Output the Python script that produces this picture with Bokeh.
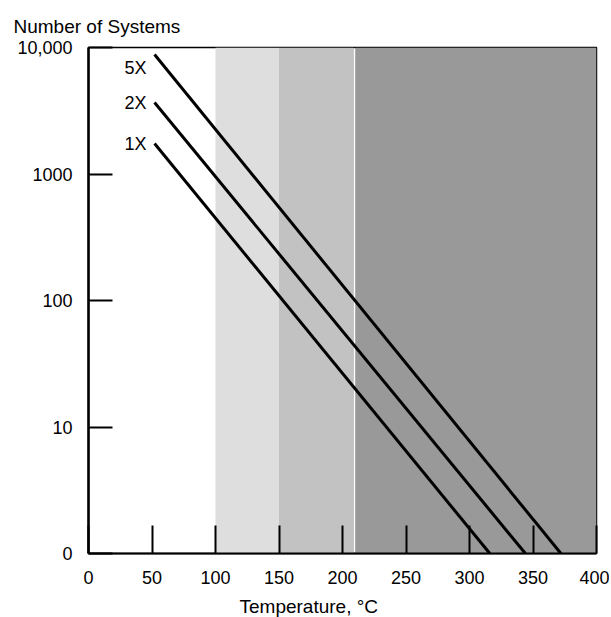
from bokeh.plotting import figure
from bokeh.models import Range1d, FixedTicker, ColumnDataSource, Title
from bokeh.core.properties import value
from bokeh.embed import file_html
from bokeh.resources import INLINE

# ---- data ----
series_names = ["5X", "2X", "1X"]
x_start = [52, 52, 52]
y_start = [8800, 3670, 1740]
x_end = [372, 344, 316]
y_end = [1, 1, 1]

band_left = [100, 150, 210]
band_right = [150, 209, 400]
band_colors = ["#dedede", "#c2c2c2", "#999999"]

x_ticks = [0, 50, 100, 150, 200, 250, 300, 350, 400]
y_ticks = [1, 10, 100, 1000, 10000]
y_tick_labels = ["0", "10", "100", "1000", "10,000"]

FONT = "Liberation Sans"

p = figure(
    width=609, height=615,
    frame_width=508, frame_height=506,
    x_range=Range1d(0, 400), y_range=Range1d(1, 10000),
    y_axis_type="log",
    output_backend="svg", toolbar_location=None,
    min_border_left=88, min_border_right=13,
    min_border_top=47, min_border_bottom=62,
)
p.background_fill_color = "white"
p.border_fill_color = "white"
p.xgrid.visible = False
p.ygrid.visible = False
p.outline_line_color = "black"
p.outline_line_width = 1.5

# shaded temperature bands
p.quad(left=band_left, right=band_right,
       bottom=[y_ticks[0]] * len(band_left), top=[y_ticks[-1]] * len(band_left),
       fill_color=band_colors, line_color=None)

# lines
p.segment(x0=x_start, y0=y_start, x1=x_end, y1=y_end,
          line_color="black", line_width=3)

# line labels
src = ColumnDataSource(dict(x=x_start, y=y_start, t=series_names, dy=[13, 0, 0]))
p.text(x="x", y="y", text="t", source=src, x_offset=-8, y_offset="dy",
       text_align="right", text_baseline="middle",
       text_font=value(FONT), text_font_size="18px", text_color="black")

# axes
xa = p.xaxis[0]
xa.ticker = FixedTicker(ticks=x_ticks)
xa.major_tick_in = 28
xa.major_tick_out = 0
xa.minor_tick_line_color = None
xa.major_tick_line_width = 2
xa.axis_line_width = 2
xa.major_label_standoff = 17
xa.major_label_text_font = FONT
xa.major_label_text_font_size = "18px"
xa.major_label_text_color = "black"

ya = p.yaxis[0]
ya.ticker = FixedTicker(ticks=y_ticks)
ya.major_label_overrides = {t: l for t, l in zip(y_ticks, y_tick_labels)}
ya.major_tick_in = 24
ya.major_tick_out = 0
ya.minor_tick_line_color = None
ya.major_tick_line_width = 2
ya.axis_line_width = 2.5
ya.major_label_standoff = 16
ya.major_label_text_font = FONT
ya.major_label_text_font_size = "18px"
ya.major_label_text_color = "black"

# titles
p.title = Title(text="Number of Systems", align="left", offset=-75, standoff=21,
                text_font=FONT, text_font_size="19px", text_font_style="normal",
                text_color="black")
p.add_layout(Title(text="Temperature, \u00b0C", align="left", offset=151, standoff=14,
                   text_font=FONT, text_font_size="19px", text_font_style="normal",
                   text_color="black"), "below")

open("out.html", "w").write(file_html(p, INLINE))
